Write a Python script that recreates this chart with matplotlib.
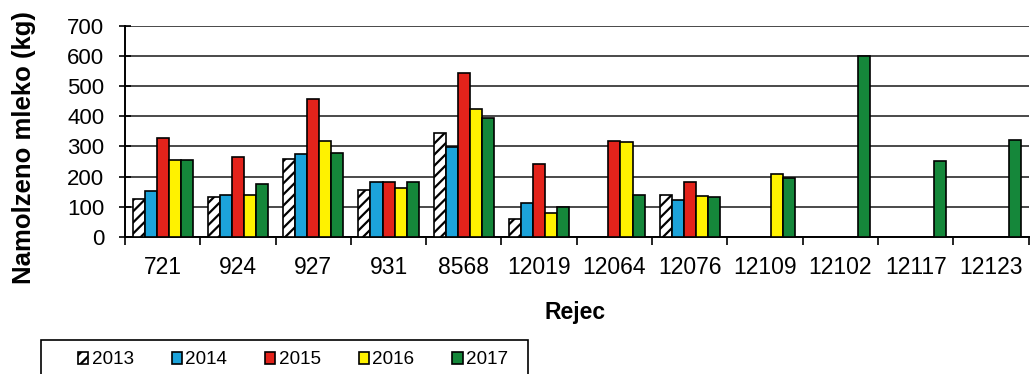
import numpy as np
import matplotlib
matplotlib.use("Agg")
import matplotlib.pyplot as plt
from matplotlib.patches import Rectangle, Patch

plt.rcParams['font.family'] = ['Liberation Sans', 'DejaVu Sans']
plt.rcParams['hatch.linewidth'] = 1.6

cows = ["721", "924", "927", "931", "8568", "12019", "12064", "12076",
        "12109", "12102", "12117", "12123"]
years = ["2013", "2014", "2015", "2016", "2017"]
nan = np.nan
milk_2013 = [127, 131, 258, 157, 343, 61, nan, 138, nan, nan, nan, nan]
milk_2014 = [151, 138, 276, 183, 298, 113, nan, 121, nan, nan, nan, nan]
milk_2015 = [329, 265, 456, 183, 543, 241, 319, 181, nan, nan, nan, nan]
milk_2016 = [256, 138, 317, 161, 423, 81, 313, 137, 207, nan, nan, nan]
milk_2017 = [254, 177, 278, 181, 394, 100, 138, 131, 196, 600, 251, 320]
series = [milk_2013, milk_2014, milk_2015, milk_2016, milk_2017]
colors = ["white", "#1CA3DA", "#E3231B", "#FFF200", "#15873A"]
hatches = ["///", None, None, None, None]

W, H = 1035, 374
fig = plt.figure(figsize=(W / 100, H / 100), dpi=100)
ax = fig.add_axes([125 / W, 1 - 237 / H, 903.6 / W, 211.4 / H])

x = np.arange(len(cows)) + 0.5
bw = 0.16
for i, (vals, c, h) in enumerate(zip(series, colors, hatches)):
    ax.bar(x + (i - 2) * bw, vals, width=bw, color=c, edgecolor="black",
           linewidth=1.2, hatch=h, zorder=3)

ax.set_xlim(0, len(cows))
ax.set_ylim(0, 700)
ax.set_yticks(np.arange(0, 701, 100))
ax.yaxis.grid(True, color="#2a2a2a", linewidth=1.2, zorder=0)
ax.set_axisbelow(True)

ax.set_xticks(x)
ax.set_xticklabels(cows)
ax.set_xticks(np.arange(0, len(cows) + 1), minor=True)
ax.tick_params(axis="x", which="major", length=0, pad=14, labelsize=16.5)
ax.tick_params(axis="x", which="minor", length=6, width=1.2, direction="out")
ax.tick_params(axis="y", length=9, width=1.2, direction="inout", pad=10.5,
               labelsize=16)

for s in ("top", "right"):
    ax.spines[s].set_visible(False)
for s in ("left", "bottom"):
    ax.spines[s].set_linewidth(1.4)

fig.text(24 / W, 1 - 148 / H, "Namolzeno mleko (kg)", rotation=90,
         ha="center", va="center", fontsize=18.5, fontweight="bold")
fig.text(575 / W, 1 - 313 / H, "Rejec", ha="center", va="center",
         fontsize=16.5, fontweight="bold")

# legend frame, running off the bottom of the figure
fig.patches.append(Rectangle((41 / W, -0.05), (528 - 41) / W, 1 - 340 / H + 0.05,
                             transform=fig.transFigure, facecolor="white",
                             edgecolor="black", linewidth=1.2))
handles = [Patch(facecolor=c, edgecolor="black", hatch=h, linewidth=1.2)
           for c, h in zip(colors, hatches)]
fig.legend(handles, years, loc="center", bbox_to_anchor=(293 / W, 1 - 360 / H),
           ncol=5, frameon=False, fontsize=13.6, handlelength=0.55,
           handleheight=0.55, handletextpad=0.18, columnspacing=2.0,
           borderpad=0, borderaxespad=0)

fig.savefig("out.png", dpi=100)
